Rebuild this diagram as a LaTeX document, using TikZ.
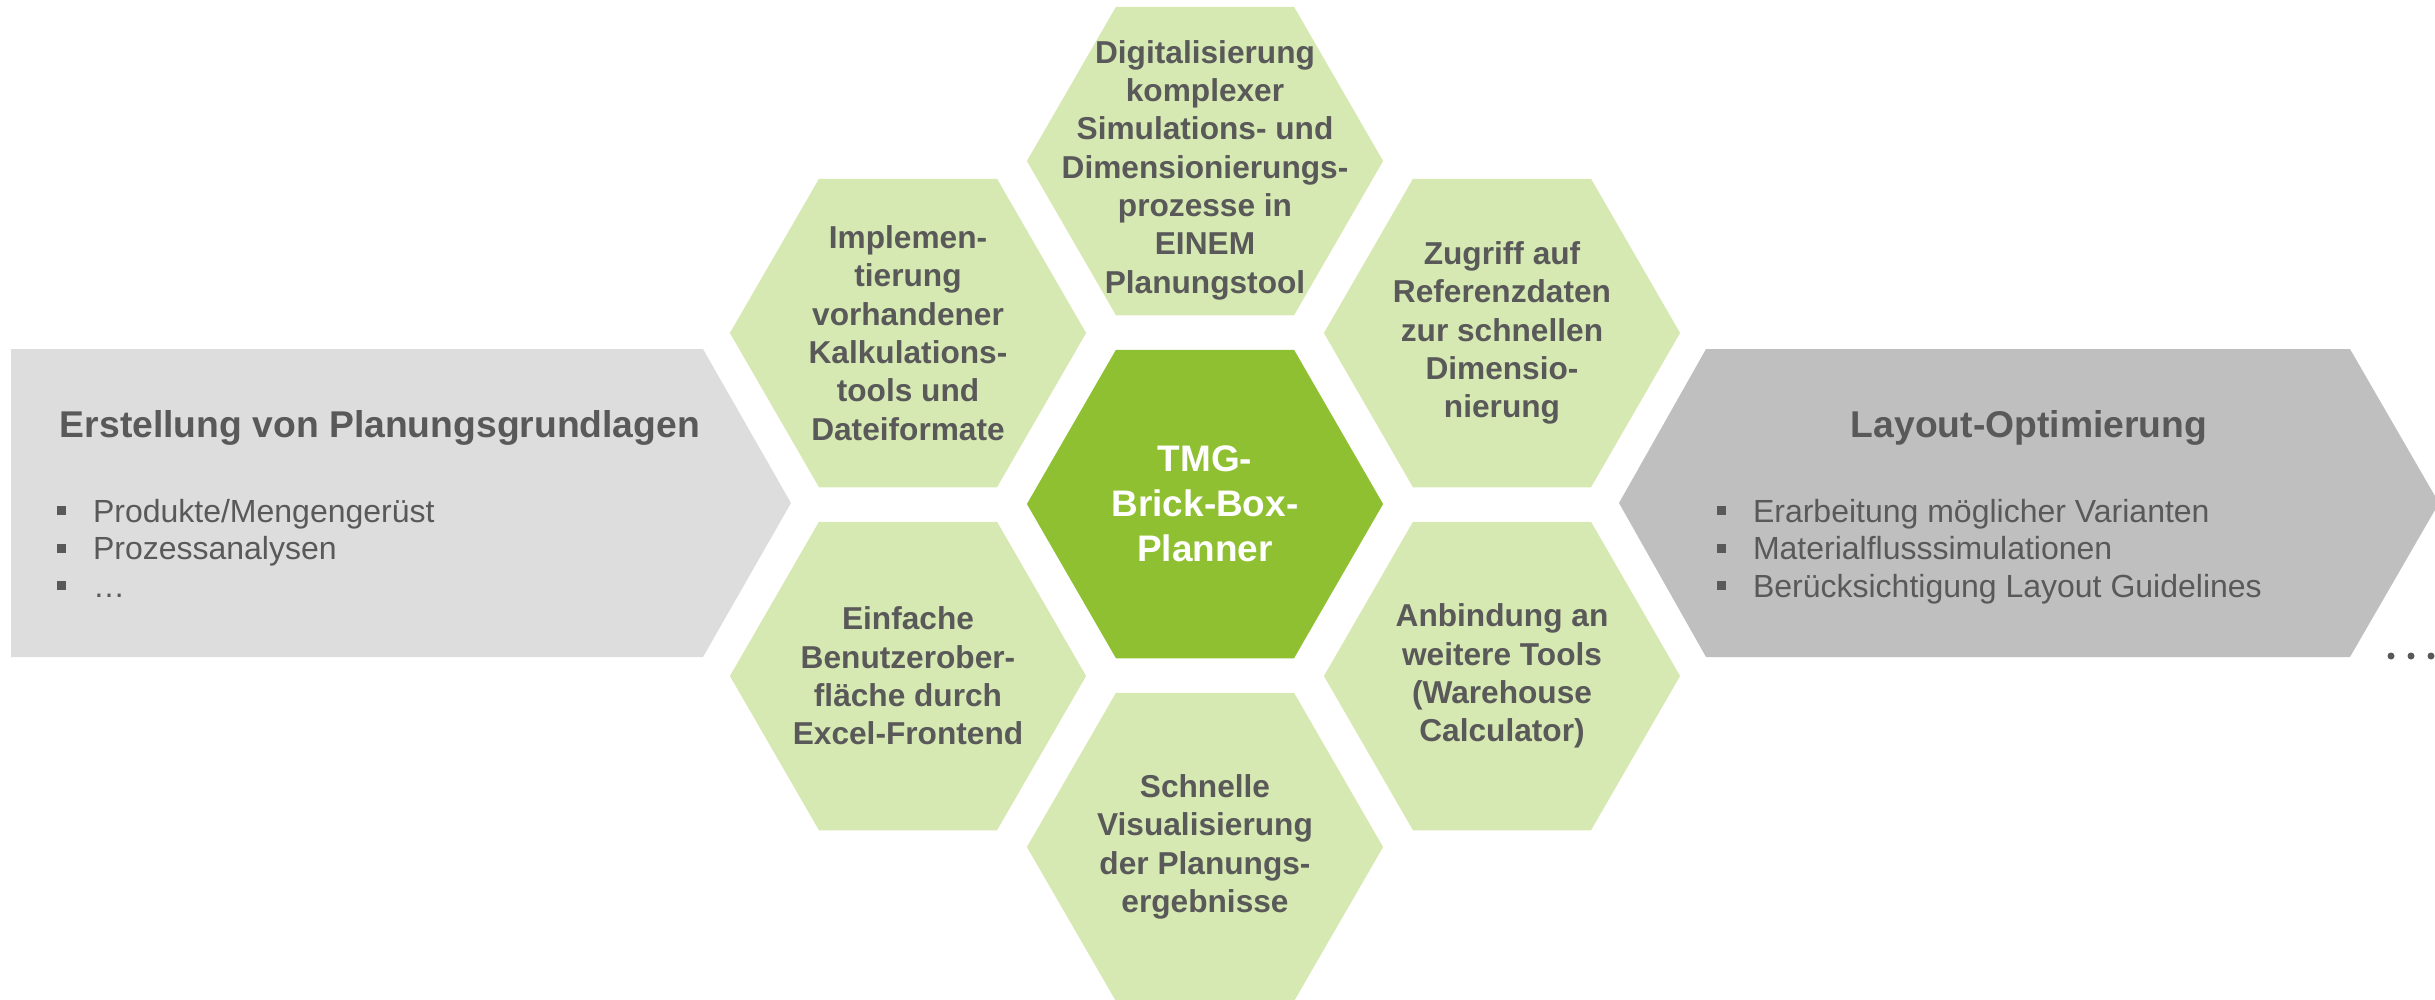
\documentclass[tikz,border=0pt]{standalone}
\usepackage{fontspec}
\setmainfont{Liberation Sans}
\usetikzlibrary{shapes.geometric}
\definecolor{txtgray}{HTML}{595959}
\definecolor{hexlight}{HTML}{D7E9B2}
\definecolor{hexdark}{HTML}{8FC031}
\definecolor{leftgray}{HTML}{DDDDDD}
\definecolor{rightgray}{HTML}{BFBFBF}
\newcommand{\bul}{\makebox[0.36cm][l]{\rule[0.07cm]{0.09cm}{0.09cm}}}
\tikzset{
    every node/.style={inner sep=0pt, outer sep=0pt, text=txtgray},
    hexcell/.style={regular polygon, regular polygon sides=6, minimum size=3.56cm, fill=hexlight},
    hexcore/.style={hexcell, fill=hexdark},
    celltext/.style={align=center, font=\bfseries\fontsize{9}{10.9}\selectfont},
    coretext/.style={align=center, text=white, font=\bfseries\fontsize{10.5}{12.8}\selectfont},
    phasetitle/.style={anchor=base, font=\bfseries\fontsize{10.6}{12.7}\selectfont},
    listline/.style={anchor=base west, font=\fontsize{9.1}{10.7}\selectfont},
    dotmark/.style={circle, fill=txtgray, minimum size=0.07cm}
}

\begin{document}
\begin{tikzpicture}[x=0.01cm, y=-0.01cm]
        \useasboundingbox (0,0) rectangle (2435,999);
        % phases
        \fill[leftgray] (11,349) -- (703,349) -- (791,503) -- (703,657) -- (11,657) -- cycle;
        \fill[rightgray] (1619,503) -- (1706,349) -- (2350,349) -- (2439,503) -- (2350,657) -- (1706,657) -- cycle;
        \node (t1) [phasetitle, anchor=base west] at (60,437) {Erstellung von Planungsgrundlagen};
        \node (t2) [phasetitle] at (2029,437) {Layout-Optimierung};
        \foreach \entry [count=\i] in {Produkte/Mengengerüst, Prozessanalysen, …}
                \node (a\i) [listline] at (57, {522+37.5*(\i-1)}) {\bul\entry};
        \foreach \entry [count=\i] in {Erarbeitung möglicher Varianten, Materialflusssimulationen, Berücksichtigung Layout Guidelines}
                \node (b\i) [listline] at (1717, {522+37.5*(\i-1)}) {\bul\entry};
        \node (d1) [dotmark] at (2391,656) {};
        \node (d2) [dotmark] at (2411,656) {};
        \node (d3) [dotmark] at (2431,656) {};
        % honeycomb
        \node (hc) [hexcore] at (1205,504) {};
        \node (ht) [hexcell] at (1205,161) {};
        \node (hb) [hexcell] at (1205,847) {};
        \node (hul) [hexcell] at (908,333) {};
        \node (hll) [hexcell] at (908,676) {};
        \node (hur) [hexcell] at (1502,333) {};
        \node (hlr) [hexcell] at (1502,676) {};
        \node (xc) [coretext] at (hc) {TMG-\\Brick-Box-\\Planner};
        \node (xt) [celltext] at ([yshift=-0.09cm]ht.center) {Digitalisierung\\komplexer\\Simulations- und\\Dimensionierungs-\\prozesse in\\EINEM\\Planungstool};
        \node (xul) [celltext] at (hul) {Implemen-\\tierung\\vorhandener\\Kalkulations-\\tools und\\Dateiformate};
        \node (xur) [celltext] at (hur) {Zugriff auf\\Referenzdaten\\zur schnellen\\Dimensio-\\nierung};
        \node (xll) [celltext] at (hll) {Einfache\\Benutzerober-\\fläche durch\\Excel-Frontend};
        \node (xlr) [celltext] at (hlr) {Anbindung an\\weitere Tools\\(Warehouse\\Calculator)};
        \node (xb) [celltext] at (hb) {Schnelle\\Visualisierung\\der Planungs-\\ergebnisse};
\end{tikzpicture}
\end{document}
